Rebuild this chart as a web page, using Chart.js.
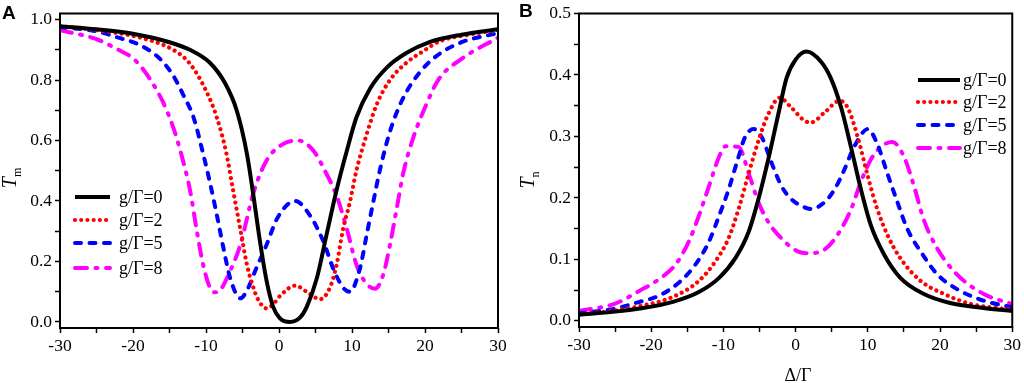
<!DOCTYPE html>
<html>
<head>
<meta charset="utf-8">
<title>Tm and Tn versus detuning</title>
<script src="https://cdn.jsdelivr.net/npm/chart.js@4.4.1/dist/chart.umd.min.js"></script>
<style>
    body { margin: 0; background: #fff; }
    #wrap { position: relative; width: 1024px; height: 383px; overflow: hidden; }
    canvas { position: absolute; top: 0; }
    .panel { position: absolute; font: bold 19px "Liberation Sans", Arial, sans-serif; color: #000; }
    .ytitle { position: absolute; font: 20px "Liberation Serif", "Times New Roman", serif; color: #000;
              transform: translate(-50%, -50%) rotate(-90deg); white-space: nowrap; }
    .ytitle sub { font-size: 12px; font-style: normal; }
    .xtitle { position: absolute; font: 18px "Liberation Serif", "Times New Roman", serif; color: #000;
              transform: translate(-50%, -50%); white-space: nowrap; }
</style>
</head>
<body>
<div id="wrap">
    <canvas id="chartA" width="512" height="383" style="left:0px"></canvas>
    <canvas id="chartB" width="512" height="383" style="left:512px"></canvas>
    <div class="panel" style="left:2px;top:2px">A</div>
    <div class="panel" style="left:519px;top:0px">B</div>
    <div class="ytitle" style="left:11px;top:178px"><i>T</i><sub>m</sub></div>
    <div class="ytitle" style="left:529px;top:180px"><i>T</i><sub>n</sub></div>
    <div class="xtitle" style="left:798px;top:375px">&Delta;/&Gamma;</div>
</div>

<script>
"use strict";

// legend labels, one per coupling strength
const seriesLabels = ["g/\u0393=0", "g/\u0393=2", "g/\u0393=5", "g/\u0393=8"];

// tick values
const xTicks = [-30, -25, -20, -15, -10, -5, 0, 5, 10, 15, 20, 25, 30];
const tmTicks = [0, 0.1, 0.2, 0.3, 0.4, 0.5, 0.6, 0.7, 0.8, 0.9, 1.0];
const tnTicks = [0, 0.05, 0.1, 0.15, 0.2, 0.25, 0.3, 0.35, 0.4, 0.45, 0.5];

// Panel A - Tm
const tmX0 = [-30, -25, -20, -15, -12.2, -9.5, -7.4, -5.8, -4.4, -3.5, -2.6, -1.7, -0.8, 0.1, 1.5, 2.9, 3.8, 5.2, 6.5, 7.9, 9.3, 10.6, 12.5, 14.8, 17.5, 20.7, 25, 30];
const tmY0 = [0.978, 0.968, 0.953, 0.925, 0.90, 0.858, 0.79, 0.70, 0.557, 0.417, 0.265, 0.136, 0.05, 0.013, 0.0, 0.015, 0.05, 0.146, 0.287, 0.437, 0.567, 0.676, 0.773, 0.842, 0.89, 0.926, 0.95, 0.968];

const tmX2 = [-30, -25, -19, -14.5, -12.2, -9.9, -8.5, -7.2, -6.3, -5.3, -4.4, -3.5, -3.0, -1.7, -0.8, 0.1, 2.2, 4.2, 5.6, 7.0, 7.9, 8.8, 9.7, 10.6, 12.0, 13.4, 15.2, 17.5, 19.8, 22.0, 26, 30];
const tmY2 = [0.978, 0.965, 0.94, 0.90, 0.854, 0.76, 0.675, 0.557, 0.437, 0.307, 0.19, 0.113, 0.08, 0.045, 0.058, 0.085, 0.12, 0.093, 0.075, 0.115, 0.19, 0.31, 0.395, 0.50, 0.62, 0.72, 0.80, 0.858, 0.896, 0.928, 0.95, 0.965];

const tmX5 = [-30, -25, -22, -19, -16.3, -14.5, -13.1, -11.7, -10.4, -9.45, -8.5, -7.6, -6.7, -5.3, -4.4, -3.1, -1.7, -0.3, 1.5, 2.2, 4.25, 6.1, 7.4, 8.8, 9.7, 11.1, 12.0, 12.9, 13.8, 15.2, 17.0, 19.3, 21.6, 25, 30];
const tmY5 = [0.975, 0.961, 0.94, 0.915, 0.87, 0.815, 0.75, 0.676, 0.557, 0.46, 0.352, 0.243, 0.146, 0.078, 0.104, 0.178, 0.255, 0.34, 0.395, 0.40, 0.352, 0.265, 0.178, 0.113, 0.10, 0.178, 0.287, 0.395, 0.50, 0.63, 0.74, 0.826, 0.88, 0.925, 0.955];

const tmX8 = [-30, -25, -22, -20, -18.6, -17.2, -15.85, -14.5, -13.3, -12.2, -11.3, -10.4, -9.45, -8.8, -8.1, -6.7, -5.3, -3.5, -1.7, 0.6, 2.6, 4.7, 6.5, 7.9, 9.3, 10.6, 12.0, 13.15, 14.3, 15.2, 16.1, 17.0, 18.4, 20.2, 21.8, 25, 30];
const tmY8 = [0.965, 0.935, 0.90, 0.872, 0.835, 0.785, 0.725, 0.644, 0.547, 0.437, 0.307, 0.19, 0.113, 0.098, 0.104, 0.168, 0.255, 0.427, 0.534, 0.589, 0.60, 0.567, 0.49, 0.417, 0.307, 0.19, 0.126, 0.11, 0.158, 0.255, 0.372, 0.49, 0.61, 0.72, 0.80, 0.87, 0.94];

// Panel B - Tn
const tnX0 = [-30, -25, -21.6, -17, -13.4, -10.6, -8.35, -6.5, -5.15, -3.8, -2.4, -1.26, 0, 1.5, 3.55, 4.9, 6.3, 7.66, 9.04, 10.4, 12.25, 14.5, 17.7, 21.4, 26, 30];
const tnY0 = [0.010, 0.015, 0.020, 0.031, 0.047, 0.07, 0.102, 0.145, 0.198, 0.262, 0.336, 0.395, 0.425, 0.438, 0.421, 0.394, 0.347, 0.283, 0.214, 0.156, 0.108, 0.07, 0.044, 0.029, 0.021, 0.016];

const tnX2 = [-30, -25, -21.6, -17, -13.4, -11.1, -9.3, -7.9, -6.5, -5.15, -3.8, -2.2, -0.6, 1.3, 2.2, 4, 6.1, 7.2, 8.6, 10, 11.3, 12.7, 14.5, 17.3, 20.5, 24.1, 30];
const tnY2 = [0.011, 0.017, 0.024, 0.039, 0.065, 0.097, 0.134, 0.182, 0.24, 0.293, 0.336, 0.363, 0.347, 0.325, 0.323, 0.339, 0.358, 0.347, 0.299, 0.235, 0.182, 0.14, 0.102, 0.065, 0.044, 0.028, 0.018];

const tnX5 = [-30, -25, -21.6, -18.9, -16.1, -13.85, -12, -10.6, -9.27, -7.9, -7, -5.8, -4.7, -3.3, -1.95, -0.6, 0.8, 2.2, 4, 5.4, 6.75, 8.1, 10, 11.3, 12.7, 14.1, 15.45, 17.3, 19.6, 22.3, 26, 30];
const tnY5 = [0.012, 0.02, 0.031, 0.041, 0.063, 0.092, 0.129, 0.171, 0.214, 0.267, 0.299, 0.312, 0.299, 0.256, 0.219, 0.198, 0.187, 0.182, 0.193, 0.214, 0.246, 0.283, 0.312, 0.288, 0.24, 0.193, 0.15, 0.113, 0.076, 0.052, 0.033, 0.022];

const tnX8 = [-30, -25, -21.6, -18.9, -16.6, -14.8, -13.4, -12, -10.6, -9.7, -7.9, -6.5, -5.15, -3.8, -1.95, 0.3, 1.7, 4, 5.8, 7.7, 9, 10.4, 11.8, 13.4, 15, 16.4, 17.7, 19.6, 22.3, 26, 30];
const tnY8 = [0.016, 0.028, 0.049, 0.068, 0.092, 0.129, 0.171, 0.219, 0.267, 0.284, 0.283, 0.24, 0.193, 0.161, 0.134, 0.113, 0.11, 0.116, 0.14, 0.182, 0.225, 0.262, 0.283, 0.291, 0.267, 0.219, 0.166, 0.118, 0.076, 0.044, 0.027];

// line looks for the four curves (solid, dot, dash, dash-dot)
const lineStyles = [
    { borderColor: "#000000", borderWidth: 4, borderDash: [], borderCapStyle: "butt" },
    { borderColor: "#ff0000", borderWidth: 4.2, borderDash: [0.01, 6.2], borderCapStyle: "round" },
    { borderColor: "#0000ff", borderWidth: 4, borderDash: [6, 8.5], borderCapStyle: "round" },
    { borderColor: "#ff00ff", borderWidth: 4, borderDash: [12, 8.5, 2, 8.5], borderCapStyle: "round" }
];

const serif = "'Liberation Serif', 'Times New Roman', serif";

function toPoints(xs, ys) {
    return xs.map(function (x, i) { return { x: x, y: ys[i] }; });
}

function makeDatasets(xLists, yLists) {
    return xLists.map(function (xs, i) {
        return Object.assign({
            label: seriesLabels[i],
            data: toPoints(xs, yLists[i]),
            pointRadius: 0,
            fill: false,
            cubicInterpolationMode: "monotone",
            borderJoinStyle: "round"
        }, lineStyles[i]);
    });
}

// frame round the plot area
const framePlugin = {
    id: "frame",
    afterDatasetsDraw(chart) {
        const a = chart.chartArea;
        const ctx = chart.ctx;
        ctx.save();
        ctx.strokeStyle = "#000";
        ctx.lineWidth = 2;
        ctx.setLineDash([]);
        ctx.strokeRect(a.left, a.top, a.right - a.left, a.bottom - a.top);
        ctx.restore();
    }
};

// legend drawn inside the plot, Origin style
const insideLegend = {
    id: "insideLegend",
    afterDatasetsDraw(chart, args, opts) {
        const ctx = chart.ctx;
        ctx.save();
        chart.data.datasets.forEach(function (ds, i) {
            const y = opts.ys[i];
            ctx.strokeStyle = ds.borderColor;
            ctx.lineWidth = ds.borderWidth;
            ctx.lineCap = ds.borderCapStyle;
            ctx.setLineDash(ds.borderDash);
            ctx.beginPath();
            ctx.moveTo(opts.x1, y);
            ctx.lineTo(opts.x2, y);
            ctx.stroke();
            ctx.setLineDash([]);
            ctx.fillStyle = "#000";
            ctx.font = "18px " + serif;
            ctx.textBaseline = "middle";
            ctx.textAlign = "left";
            ctx.fillText(ds.label, opts.tx, y + 1);
        });
        ctx.restore();
    }
};

function makeChart(id, datasets, yMin, yMax, yTicks, yLabelEvery, yWidth, xHeight, pad, legend) {
    const ctx = document.getElementById(id).getContext("2d");
    return new Chart(ctx, {
        type: "line",
        data: { datasets: datasets },
        options: {
            responsive: false,
            animation: false,
            devicePixelRatio: 1,
            layout: { padding: pad },
            plugins: {
                legend: { display: false },
                tooltip: { enabled: false },
                insideLegend: legend
            },
            scales: {
                x: {
                    type: "linear",
                    min: -30,
                    max: 30,
                    afterBuildTicks: function (axis) {
                        axis.ticks = xTicks.map(function (v) { return { value: v }; });
                    },
                    afterFit: function (axis) { axis.height = xHeight; },
                    ticks: {
                        autoSkip: false,
                        maxRotation: 0,
                        padding: 3,
                        color: "#000",
                        font: { family: serif, size: 17.5 },
                        callback: function (v) { return (v % 10 === 0) ? String(v) : ""; }
                    },
                    grid: { drawOnChartArea: false, drawTicks: true, tickLength: 5, tickColor: "#000", tickWidth: 1.5 },
                    border: { display: false }
                },
                y: {
                    min: yMin,
                    max: yMax,
                    afterBuildTicks: function (axis) {
                        axis.ticks = yTicks.map(function (v) { return { value: v }; });
                    },
                    afterFit: function (axis) { axis.width = yWidth; },
                    ticks: {
                        autoSkip: false,
                        padding: 3,
                        color: "#000",
                        font: { family: serif, size: 17.5 },
                        callback: function (v, i) { return (i % yLabelEvery === 0) ? v.toFixed(1) : ""; }
                    },
                    grid: { drawOnChartArea: false, drawTicks: true, tickLength: 5, tickColor: "#000", tickWidth: 1.5 },
                    border: { display: false }
                }
            }
        },
        plugins: [framePlugin, insideLegend]
    });
}

makeChart("chartA",
    makeDatasets([tmX0, tmX2, tmX5, tmX8], [tmY0, tmY2, tmY5, tmY8]),
    -0.02, 1.02, tmTicks, 2, 60, 55,
    { left: 0, top: 7, right: 14, bottom: 0 },
    { x1: 75, x2: 110, tx: 119, ys: [197, 220, 243, 268] });

makeChart("chartB",
    makeDatasets([tnX0, tnX2, tnX5, tnX8], [tnY0, tnY2, tnY5, tnY8]),
    -0.01, 0.5, tnTicks, 2, 67, 56,
    { left: 0, top: 7, right: 8, bottom: 0 },
    { x1: 406, x2: 448, tx: 451, ys: [80, 102, 125, 148] });
</script>
</body>
</html>
